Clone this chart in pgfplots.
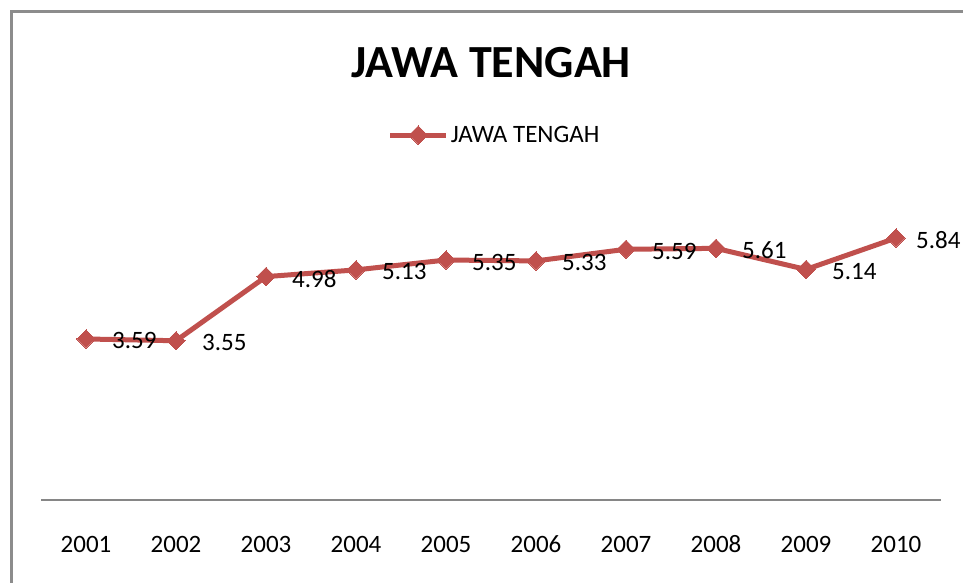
\documentclass[border=0pt]{standalone}
\usepackage{pgfplots}
\pgfplotsset{compat=1.18}
\usepackage{fontspec}
\setmainfont{Carlito}
\definecolor{serred}{HTML}{C0504D}
\definecolor{framegray}{HTML}{8C8C8C}
\definecolor{axgray}{HTML}{868686}
\begin{document}
\begin{tikzpicture}
\path[use as bounding box] (0,0) rectangle (963pt,582pt);
\fill[white] (0,0) rectangle (963pt,582pt);
\draw[framegray, line width=2.7pt] (11.3pt,-10pt) -- (11.3pt,570.7pt) -- (980pt,570.7pt);
\node[font=\fontsize{46}{52}\selectfont\bfseries, inner sep=0pt] at (491pt,519.5pt) {JAWA TENGAH};
\begin{axis}[
  at={(41pt,82pt)}, anchor=south west,
  scale only axis, width=900pt, height=314pt,
  xmin=-0.5, xmax=9.5, ymin=0, ymax=7,
  axis x line*=bottom, axis y line=none,
  x axis line style={axgray, line width=1.5pt, -},
  xtick={0,1,2,3,4,5,6,7,8,9},
  xticklabels={2001,2002,2003,2004,2005,2006,2007,2008,2009,2010},
  xtick style={draw=none}, major tick length=0pt,
  xticklabel style={font=\fontsize{25}{30}\selectfont, anchor=base, yshift=-52pt},
  clip=false,
  legend style={at={(0.504,1.162)}, anchor=center, draw=none, fill=none,
    font=\fontsize{25}{30}\selectfont, inner sep=0pt},
  legend image code/.code={\draw[#1, mark repeat=2, mark phase=2] plot coordinates {(0pt,0pt) (28pt,0pt) (56pt,0pt)};},
  lbl/.style={only marks, mark=none, forget plot,
    nodes near coords={\pgfmathprintnumber[fixed,fixed zerofill,precision=2,assume math mode=true]{\pgfplotspointmeta}},
    nodes near coords style={anchor=west, inner sep=0pt, xshift=#1, yshift=-2pt, text=black, font=\fontsize{25}{30}\selectfont}},
]
\addplot[color=serred, line width=5pt, mark=square*, mark size=6.5pt,
  mark options={rotate=45, solid, fill=serred, draw=serred, line width=0pt}]
  coordinates {(0,3.59) (1,3.55) (2,4.98) (3,5.13) (4,5.35) (5,5.33) (6,5.59) (7,5.61) (8,5.14) (9,5.84)};
\addlegendentry{JAWA TENGAH}
\addplot[lbl=26pt] coordinates {(0,3.59) (1,3.55) (2,4.98) (3,5.13) (4,5.35) (5,5.33) (6,5.59) (7,5.61) (8,5.14)};
\addplot[lbl=20pt] coordinates {(9,5.84)};
\end{axis}
\end{tikzpicture}
\end{document}
